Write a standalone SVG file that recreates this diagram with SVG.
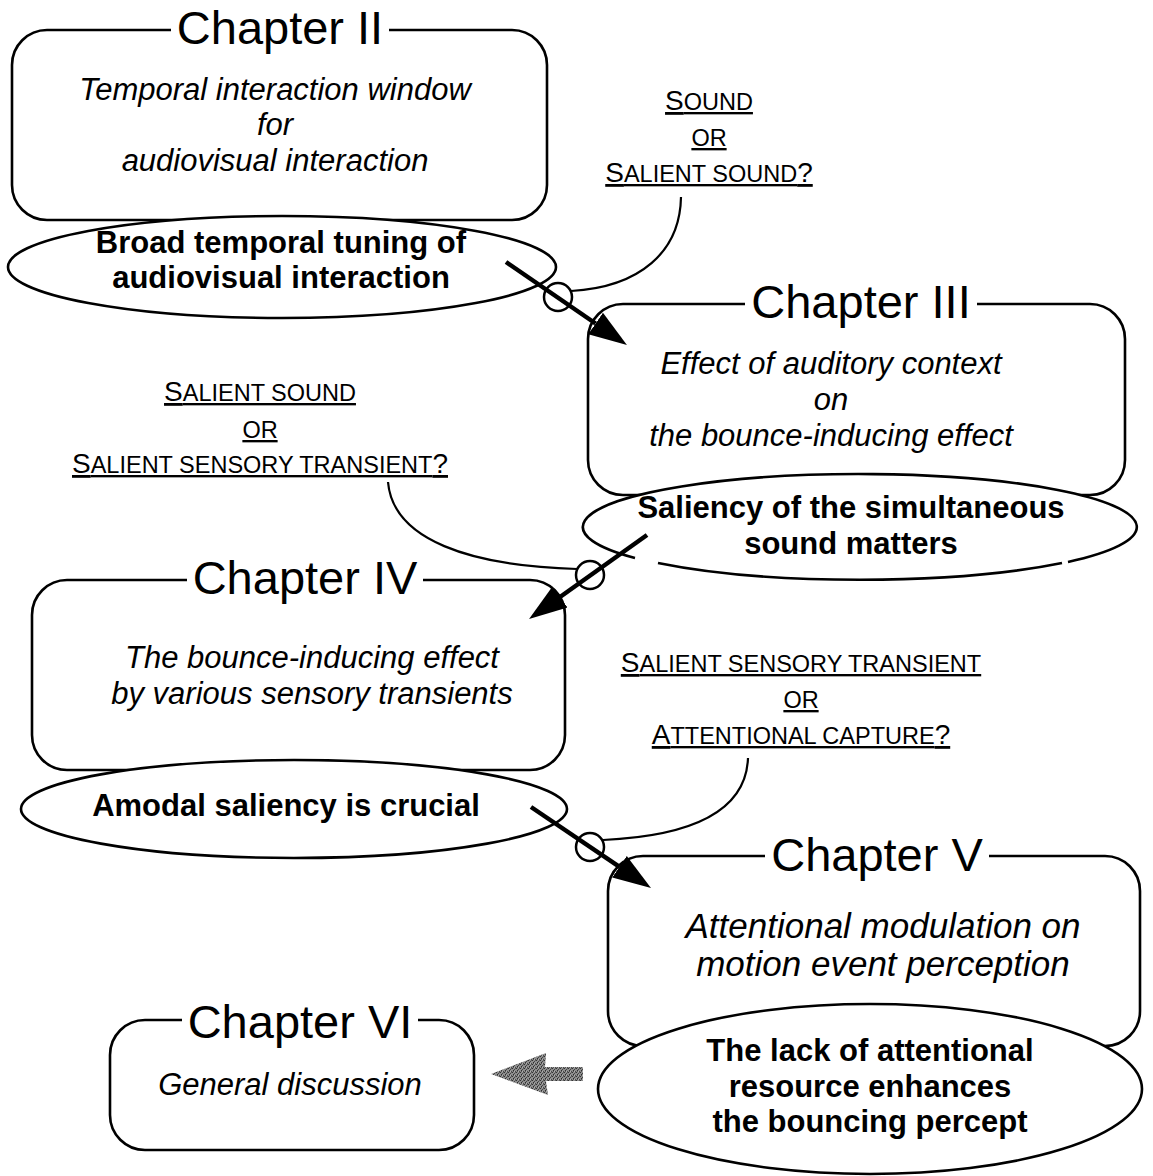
<svg xmlns="http://www.w3.org/2000/svg" width="1153" height="1176" viewBox="0 0 1153 1176">
  <style>
    text { font-family: "Liberation Sans", Arial, Helvetica, sans-serif; fill: #000; }
    .box { fill: #fff; stroke: #000; stroke-width: 2.6; }
    .oval { fill: #fff; stroke: #000; stroke-width: 2.6; }
    .oval-fill { fill: #fff; stroke: none; }
    .oval-edge { fill: none; stroke: #000; stroke-width: 2.6; }
    .gap { fill: #fff; stroke: none; }
    .title { font-size: 47px; text-anchor: middle; }
    .desc { font-size: 31px; font-style: italic; text-anchor: middle; }
    .desc-lg { font-size: 35px; font-style: italic; text-anchor: middle; }
    .finding { font-size: 31px; font-weight: bold; text-anchor: middle; }
    .question { font-size: 23.5px; text-anchor: middle; text-decoration: underline; }
    .cap { font-size: 28px; }
    .link { fill: none; stroke: #000; stroke-width: 2.2; }
    .knot { fill: none; stroke: #000; stroke-width: 2.5; }
    .flow { fill: none; stroke: #000; stroke-width: 4.5; marker-end: url(#head); }
  </style>
  <defs>
    <marker id="head" viewBox="0 -14 40 28" refX="0" refY="0" markerWidth="40" markerHeight="28" markerUnits="userSpaceOnUse" orient="auto">
      <path d="M0,-13 L38,0 L0,13 Z" fill="#000"/>
    </marker>
    <!-- dithered grey used by the block arrow -->
    <pattern id="grain" width="4" height="4" patternUnits="userSpaceOnUse">
      <rect width="4" height="4" fill="#8e8e8e"/>
      <rect x="0" y="0" width="1" height="1" fill="#333"/>
      <rect x="2" y="1" width="1" height="1" fill="#444"/>
      <rect x="1" y="2" width="1" height="1" fill="#2e2e2e"/>
      <rect x="3" y="3" width="1" height="1" fill="#4a4a4a"/>
      <rect x="3" y="0" width="1" height="1" fill="#5e5e5e"/>
      <rect x="1" y="3" width="1" height="1" fill="#555"/>
      <rect x="2" y="3" width="1" height="1" fill="#b0b0b0"/>
    </pattern>
  </defs>

  <!-- Chapter II -->
  <g id="chapter2">
    <rect class="box" x="12" y="30" width="535" height="190" rx="35"/>
    <rect class="gap" x="171" y="24" width="218" height="12"/>
    <text class="title" x="280" y="44">Chapter II</text>
    <text class="desc" x="275" y="100">Temporal interaction window</text>
    <text class="desc" x="275" y="135">for</text>
    <text class="desc" x="275" y="171">audiovisual interaction</text>
  </g>
  <g id="finding2">
    <ellipse class="oval" cx="282" cy="267" rx="274" ry="51"/>
    <text class="finding" x="281" y="253">Broad temporal tuning of</text>
    <text class="finding" x="281" y="288">audiovisual interaction</text>
  </g>

  <!-- Chapter III -->
  <g id="chapter3">
    <rect class="box" x="588" y="304" width="537" height="191" rx="35"/>
    <rect class="gap" x="745" y="298" width="232" height="12"/>
    <text class="title" x="861" y="318">Chapter III</text>
    <text class="desc" x="831" y="374">Effect of auditory context</text>
    <text class="desc" x="831" y="410">on</text>
    <text class="desc" x="831" y="446">the bounce-inducing effect</text>
  </g>
  <g id="finding3">
    <ellipse class="oval-fill" cx="860" cy="527" rx="277" ry="53"/>
    <path class="oval-edge" d="M658,563 A277,53 0 0 0 1062,563 M1068,562 A277,53 0 1 0 635,558"/>
    <text class="finding" x="851" y="518">Saliency of the simultaneous</text>
    <text class="finding" x="851" y="554">sound matters</text>
  </g>

  <!-- Chapter IV -->
  <g id="chapter4">
    <rect class="box" x="32" y="580" width="533" height="190" rx="35"/>
    <rect class="gap" x="187" y="574" width="236" height="12"/>
    <text class="title" x="305" y="594">Chapter IV</text>
    <text class="desc" x="312" y="668">The bounce-inducing effect</text>
    <text class="desc" x="312" y="704">by various sensory transients</text>
  </g>
  <g id="finding4">
    <ellipse class="oval" cx="294" cy="809" rx="273" ry="49"/>
    <text class="finding" x="286" y="816">Amodal saliency is crucial</text>
  </g>

  <!-- Chapter V -->
  <g id="chapter5">
    <rect class="box" x="608" y="856" width="532" height="190" rx="35"/>
    <rect class="gap" x="765" y="850" width="224" height="12"/>
    <text class="title" x="877" y="871">Chapter V</text>
    <text class="desc-lg" x="883" y="938">Attentional modulation on</text>
    <text class="desc-lg" x="883" y="976">motion event perception</text>
  </g>
  <g id="finding5">
    <ellipse class="oval" cx="870" cy="1089" rx="272" ry="85"/>
    <text class="finding" x="870" y="1061">The lack of attentional</text>
    <text class="finding" x="870" y="1097">resource enhances</text>
    <text class="finding" x="870" y="1132">the bouncing percept</text>
  </g>

  <!-- Chapter VI -->
  <g id="chapter6">
    <rect class="box" x="110" y="1020" width="364" height="130" rx="35"/>
    <rect class="gap" x="182" y="1014" width="236" height="12"/>
    <text class="title" x="300" y="1038">Chapter VI</text>
    <text class="desc" x="290" y="1095">General discussion</text>
  </g>

  <!-- open questions between chapters -->
  <g id="question1">
    <text class="question" x="709" y="110"><tspan class="cap">S</tspan>OUND</text>
    <text class="question" x="709" y="146">OR</text>
    <text class="question" x="709" y="182"><tspan class="cap">S</tspan>ALIENT SOUND<tspan class="cap">?</tspan></text>
  </g>
  <g id="question2">
    <text class="question" x="260" y="401"><tspan class="cap">S</tspan>ALIENT SOUND</text>
    <text class="question" x="260" y="438">OR</text>
    <text class="question" x="260" y="473"><tspan class="cap">S</tspan>ALIENT SENSORY TRANSIENT<tspan class="cap">?</tspan></text>
  </g>
  <g id="question3">
    <text class="question" x="801" y="672"><tspan class="cap">S</tspan>ALIENT SENSORY TRANSIENT</text>
    <text class="question" x="801" y="708">OR</text>
    <text class="question" x="801" y="744"><tspan class="cap">A</tspan>TTENTIONAL CAPTURE<tspan class="cap">?</tspan></text>
  </g>

  <!-- connectors -->
  <g id="connectors">
    <path class="link" d="M681,197 C680,252 640,287 571,291"/>
    <path class="link" d="M388,482 C393,540 470,566 577,569"/>
    <path class="link" d="M748,758 C746,812 690,836 603,840"/>
    <circle class="knot" cx="558" cy="297" r="14"/>
    <circle class="knot" cx="590" cy="575" r="14"/>
    <circle class="knot" cx="590" cy="847" r="14"/>
    <path class="flow" d="M506,262 L595.6,323.5"/>
    <path class="flow" d="M647,535 L560,597"/>
    <path class="flow" d="M531,807 L619.5,866.8"/>
    <polygon points="491,1074 546,1053 545,1067 583,1067 583,1081 546,1081 548,1095" fill="url(#grain)"/>
  </g>
</svg>
